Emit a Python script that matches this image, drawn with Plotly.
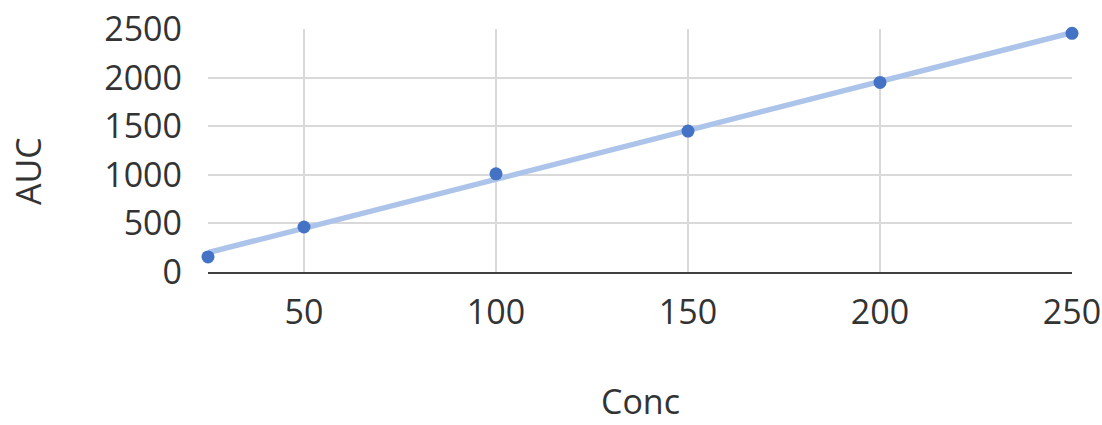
import numpy as np
import plotly.graph_objects as go

conc = [25, 50, 100, 150, 200, 250]
auc = [155, 463, 1010, 1450, 1950, 2455]
x_ticks = [50, 100, 150, 200, 250]
y_ticks = [0, 500, 1000, 1500, 2000, 2500]

slope, intercept = np.polyfit(conc, auc, 1)
tx = [min(conc), max(conc)]
ty = [slope * v + intercept for v in tx]

font = "'Open Sans', 'Noto Sans', sans-serif"
txt_color = "#333333"
fs = 34

fig = go.Figure()
fig.add_trace(go.Scatter(x=tx, y=ty, mode="lines",
                         line=dict(color="#ADC4EA", width=5.5), showlegend=False,
                         hoverinfo="skip"))
fig.add_trace(go.Scatter(x=conc, y=auc, mode="markers",
                         marker=dict(color="#4472C4", size=13), showlegend=False,
                         cliponaxis=False))

fig.update_layout(
    width=1102, height=425,
    margin=dict(l=208, r=30, t=29, b=153, autoexpand=False),
    paper_bgcolor="white", plot_bgcolor="white",
    font=dict(family=font, size=fs, color=txt_color),
    xaxis=dict(range=[25, 250], tickvals=x_ticks, showgrid=True,
               gridcolor="#D9D9D9", gridwidth=2, zeroline=False,
               showline=True, linecolor="#404040", linewidth=2,
               ticks="", ticklabelstandoff=9, automargin=False,
               ticklabeloverflow="allow"),
    yaxis=dict(range=[0, 2500], tickvals=y_ticks, showgrid=True,
               gridcolor="#D9D9D9", gridwidth=2, zeroline=False,
               showline=False, ticks="", ticklabelstandoff=25, automargin=False,
               ticklabeloverflow="allow"),
    annotations=[
        dict(text="Conc", xref="paper", yref="paper", x=0.5, y=0,
             yshift=-129, xanchor="center", yanchor="middle", showarrow=False,
             font=dict(family=font, size=fs, color=txt_color)),
        dict(text="AUC", xref="paper", yref="paper", x=0, y=0.4156,
             xshift=-180, xanchor="center", yanchor="middle", textangle=-90,
             showarrow=False, font=dict(family=font, size=fs, color=txt_color)),
    ],
)
fig.write_html("out.html", config={"displayModeBar": False},
               post_script="document.body.style.margin='0';document.body.style.overflow='hidden';")
